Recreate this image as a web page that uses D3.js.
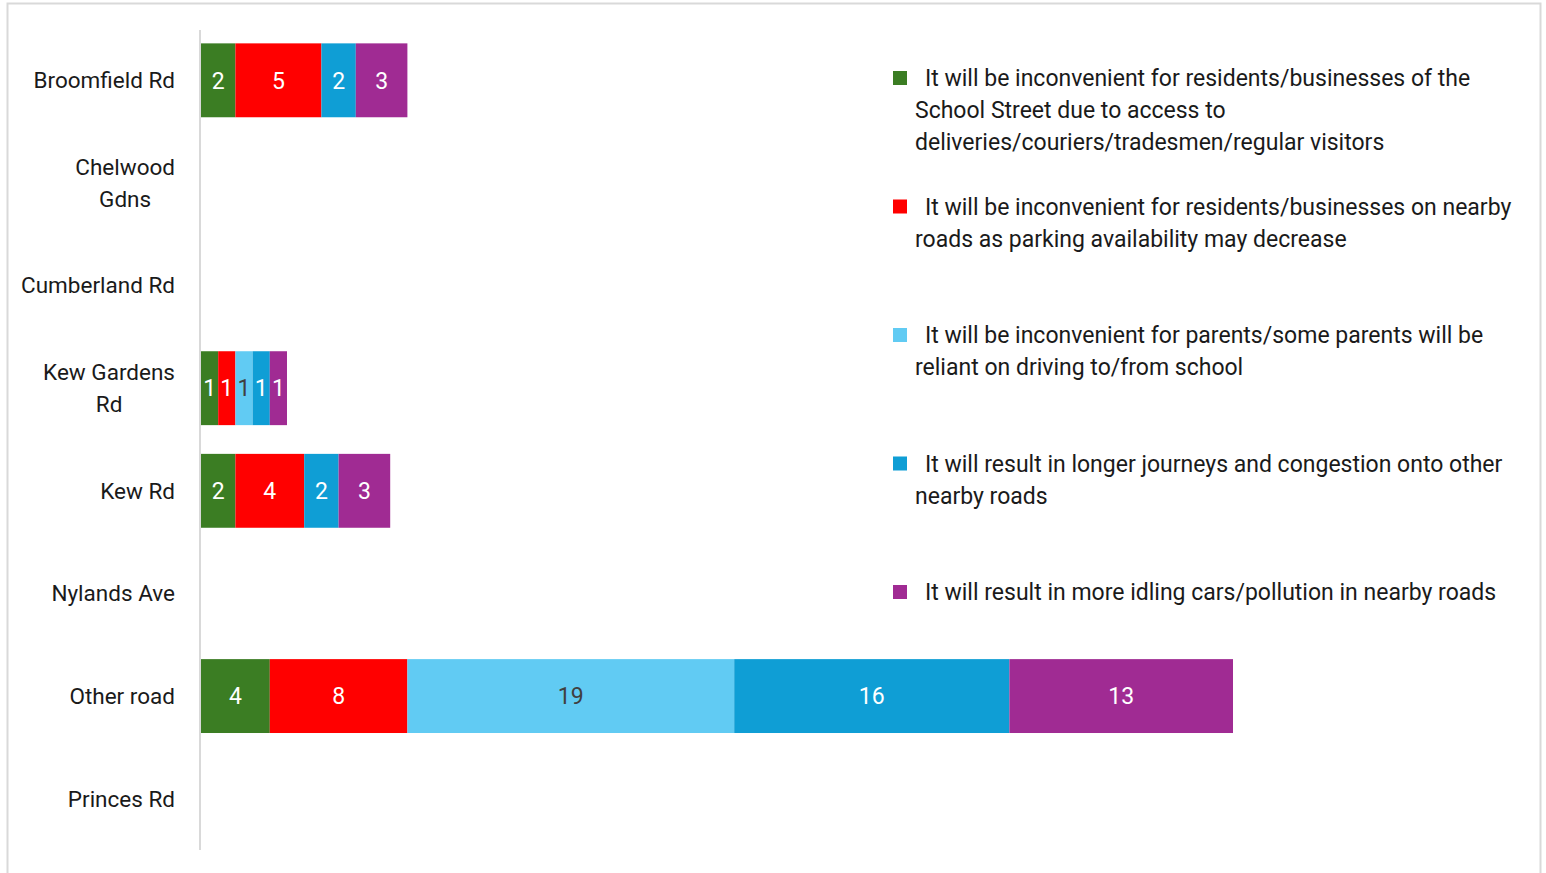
<!DOCTYPE html>
<html>
<head>
<meta charset="utf-8">
<script src="https://cdn.jsdelivr.net/npm/d3@7"></script>
<style>
  html, body { margin: 0; padding: 0; background: #fff; }
  svg { display: block; font-family: Roboto, "Noto Sans", sans-serif; }
</style>
</head>
<body>
<div id="chart"></div>
<script>
// roads, top to bottom
const roads = [
  "Broomfield Rd",
  "Chelwood Gdns",
  "Cumberland Rd",
  "Kew Gardens Rd",
  "Kew Rd",
  "Nylands Ave",
  "Other road",
  "Princes Rd"
];
// label line breaks as drawn on the axis
const roadLines = [
  ["Broomfield Rd"],
  ["Chelwood", "Gdns"],
  ["Cumberland Rd"],
  ["Kew Gardens", "Rd"],
  ["Kew Rd"],
  ["Nylands Ave"],
  ["Other road"],
  ["Princes Rd"]
];

const reasonKeys = ["access", "parking", "parents", "journeys", "idling"];
const accessVals   = [2, 0, 0, 1, 2, 0, 4, 0];
const parkingVals  = [5, 0, 0, 1, 4, 0, 8, 0];
const parentsVals  = [0, 0, 0, 1, 0, 0, 19, 0];
const journeyVals  = [2, 0, 0, 1, 2, 0, 16, 0];
const idlingVals   = [3, 0, 0, 1, 3, 0, 13, 0];

const legendLines = [
  ["It will be inconvenient for residents/businesses of the", "School Street due to access to", "deliveries/couriers/tradesmen/regular visitors"],
  ["It will be inconvenient for residents/businesses on nearby", "roads as parking availability may decrease"],
  ["It will be inconvenient for parents/some parents will be", "reliant on driving to/from school"],
  ["It will result in longer journeys and congestion onto other", "nearby roads"],
  ["It will result in more idling cars/pollution in nearby roads"]
];

const colors = ["#3B7D23", "#FF0000", "#61CBF3", "#0F9ED5", "#A02B93"];
const labelColors = ["#fff", "#fff", "#404040", "#fff", "#fff"];

const W = 1546, H = 873;
const table = roads.map((r, i) => ({
  road: r,
  lines: roadLines[i],
  access: accessVals[i],
  parking: parkingVals[i],
  parents: parentsVals[i],
  journeys: journeyVals[i],
  idling: idlingVals[i]
}));

const svg = d3.select("#chart").append("svg")
  .attr("width", W).attr("height", H);

// outer chart border
svg.append("rect")
  .attr("x", 7.5).attr("y", 3.5)
  .attr("width", 1533).attr("height", 880)
  .attr("fill", "none").attr("stroke", "#d9d9d9").attr("stroke-width", 2);

const stack = d3.stack().keys(reasonKeys)(table);
const maxTotal = d3.max(table, d => reasonKeys.reduce((s, k) => s + d[k], 0));

const x = d3.scaleLinear().domain([0, maxTotal]).range([201, 1233]);
const y = d3.scaleBand().domain(roads).range([29, 850])
  .paddingInner(0.28).paddingOuter(0.14);

const gBars = svg.append("g");
stack.forEach((layer, li) => {
  const g = gBars.append("g");
  const segs = layer.map(s => ({ s, road: s.data.road, v: s[1] - s[0] }))
    .filter(d => d.v > 0);
  g.selectAll("rect").data(segs).join("rect")
    .attr("x", d => x(d.s[0]))
    .attr("y", d => y(d.road))
    .attr("width", d => x(d.s[1]) - x(d.s[0]))
    .attr("height", y.bandwidth())
    .attr("fill", colors[li]);
  g.selectAll("text").data(segs).join("text")
    .attr("x", d => (x(d.s[0]) + x(d.s[1])) / 2)
    .attr("y", d => y(d.road) + y.bandwidth() / 2)
    .attr("dy", "0.36em")
    .attr("text-anchor", "middle")
    .attr("font-size", 23)
    .attr("fill", labelColors[li])
    .text(d => d.v);
});

// category axis line
svg.append("line")
  .attr("x1", 200).attr("x2", 200)
  .attr("y1", 30).attr("y2", 850)
  .attr("stroke", "#d9d9d9").attr("stroke-width", 2);

// category labels (right aligned block, lines centred inside)
const gCat = svg.append("g").attr("font-size", 22.5).attr("fill", "#1a1a1a");
table.forEach(d => {
  const t = gCat.append("text").attr("text-anchor", "middle");
  const n = d.lines.length;
  const cy = y(d.road) + y.bandwidth() / 2;
  d.lines.forEach((ln, j) => {
    t.append("tspan").attr("x", 0)
      .attr("y", cy + (j - (n - 1) / 2) * 32).attr("dy", "0.35em").text(ln);
  });
  const w = t.node().getBBox().width;
  t.selectAll("tspan").attr("x", 175 - w / 2);
});

// legend
const legendY = d3.scaleLinear().domain([0, 4]).range([78, 592]);
const gLeg = svg.append("g").attr("font-size", 23).attr("fill", "#1a1a1a");
legendLines.forEach((lines, i) => {
  const y0 = legendY(i);
  gLeg.append("rect")
    .attr("x", 893).attr("y", y0 - 7).attr("width", 14).attr("height", 14)
    .attr("fill", colors[i]);
  const t = gLeg.append("text");
  lines.forEach((ln, j) => {
    t.append("tspan")
      .attr("x", j === 0 ? 925 : 915)
      .attr("y", y0 + j * 32).attr("dy", "0.35em")
      .text(ln);
  });
});
</script>
</body>
</html>
